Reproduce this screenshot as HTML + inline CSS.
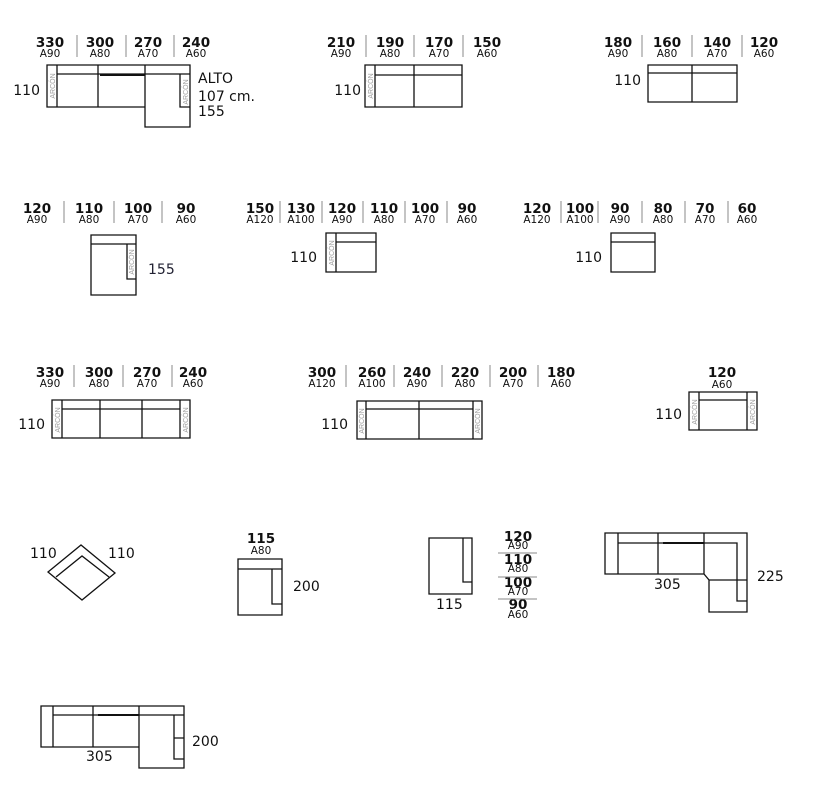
<!DOCTYPE html>
<html><head><meta charset="utf-8"><style>
html,body{margin:0;padding:0;background:#fff;}
svg{display:block;}
text{font-family:"DejaVu Sans","Liberation Sans",sans-serif;fill:#111;}
.n{font-size:13.5px;font-weight:bold;text-anchor:middle;}
.a{font-size:10.5px;text-anchor:middle;}
.t{font-size:14px;}
.e{text-anchor:end;}
.s{stroke:#111;stroke-width:1.3;fill:none;}
.g{stroke:#888;stroke-width:1;}
.ar{font-size:7px;fill:#999;text-anchor:middle;font-family:"Liberation Sans",sans-serif;}
</style></head><body>
<svg width="826" height="789" viewBox="0 0 826 789">
<!-- Row1 M1 -->
<g>
<text class="n" x="50" y="47">330</text><text class="a" x="50" y="57">A90</text>
<text class="n" x="100" y="47">300</text><text class="a" x="100" y="57">A80</text>
<text class="n" x="148" y="47">270</text><text class="a" x="148" y="57">A70</text>
<text class="n" x="196" y="47">240</text><text class="a" x="196" y="57">A60</text>
<path class="g" d="M77 35V57M126 35V57M174 35V57"/>
<path class="s" d="M47 65H190V127H145V107H47Z M57 74H190 M57 65V107 M98 65V107 M145 65V107 M180 74V107H190"/>
<path d="M100 75H145" stroke="#111" stroke-width="2"/>
<text class="ar" transform="translate(55,86) rotate(-90)">ARCÓN</text>
<text class="ar" transform="translate(188,92) rotate(-90)">ARCÓN</text>
<text class="t e" x="40" y="95">110</text>
<text class="t" x="198" y="83">ALTO</text><text class="t" x="198" y="101">107 cm.</text><text class="t" x="198" y="116">155</text>
</g>
<!-- M2 -->
<g>
<text class="n" x="341" y="47">210</text><text class="a" x="341" y="57">A90</text>
<text class="n" x="390" y="47">190</text><text class="a" x="390" y="57">A80</text>
<text class="n" x="439" y="47">170</text><text class="a" x="439" y="57">A70</text>
<text class="n" x="487" y="47">150</text><text class="a" x="487" y="57">A60</text>
<path class="g" d="M366 35V57M414 35V57M463 35V57"/>
<path class="s" d="M365 65H462V107H365Z M375 65V107 M375 75H462 M414 65V107"/>
<text class="ar" transform="translate(373,86) rotate(-90)">ARCÓN</text>
<text class="t e" x="361" y="95">110</text>
</g>
<!-- M3 -->
<g>
<text class="n" x="618" y="47">180</text><text class="a" x="618" y="57">A90</text>
<text class="n" x="667" y="47">160</text><text class="a" x="667" y="57">A80</text>
<text class="n" x="717" y="47">140</text><text class="a" x="717" y="57">A70</text>
<text class="n" x="764" y="47">120</text><text class="a" x="764" y="57">A60</text>
<path class="g" d="M642 35V57M692 35V57M742 35V57"/>
<path class="s" d="M648 65H737V102H648Z M648 73H737 M692 65V102"/>
<text class="t e" x="641" y="85">110</text>
</g>
<!-- Row2 M4 -->
<g>
<text class="n" x="37" y="213">120</text><text class="a" x="37" y="223">A90</text>
<text class="n" x="89" y="213">110</text><text class="a" x="89" y="223">A80</text>
<text class="n" x="138" y="213">100</text><text class="a" x="138" y="223">A70</text>
<text class="n" x="186" y="213">90</text><text class="a" x="186" y="223">A60</text>
<path class="g" d="M64 201V223M114 201V223M162 201V223"/>
<path class="s" d="M91 235H136V295H91Z M91 244H136 M127 244V279H136"/>
<text class="ar" transform="translate(134,262) rotate(-90)">ARCÓN</text>
<text class="t" x="148" y="274" style="fill:#223">155</text>
</g>
<!-- M5 -->
<g>
<text class="n" x="260" y="213">150</text><text class="a" x="260" y="223">A120</text>
<text class="n" x="301" y="213">130</text><text class="a" x="301" y="223">A100</text>
<text class="n" x="342" y="213">120</text><text class="a" x="342" y="223">A90</text>
<text class="n" x="384" y="213">110</text><text class="a" x="384" y="223">A80</text>
<text class="n" x="425" y="213">100</text><text class="a" x="425" y="223">A70</text>
<text class="n" x="467" y="213">90</text><text class="a" x="467" y="223">A60</text>
<path class="g" d="M280 201V223M322 201V223M363 201V223M405 201V223M447 201V223"/>
<path class="s" d="M326 233H376V272H326Z M336 233V272 M336 242H376"/>
<text class="ar" transform="translate(334,253) rotate(-90)">ARCÓN</text>
<text class="t e" x="317" y="262">110</text>
</g>
<!-- M6 -->
<g>
<text class="n" x="537" y="213">120</text><text class="a" x="537" y="223">A120</text>
<text class="n" x="580" y="213">100</text><text class="a" x="580" y="223">A100</text>
<text class="n" x="620" y="213">90</text><text class="a" x="620" y="223">A90</text>
<text class="n" x="663" y="213">80</text><text class="a" x="663" y="223">A80</text>
<text class="n" x="705" y="213">70</text><text class="a" x="705" y="223">A70</text>
<text class="n" x="747" y="213">60</text><text class="a" x="747" y="223">A60</text>
<path class="g" d="M561 201V223M598 201V223M642 201V223M685 201V223M728 201V223"/>
<path class="s" d="M611 233H655V272H611Z M611 242H655"/>
<text class="t e" x="602" y="262">110</text>
</g>
<!-- Row3 M7 -->
<g>
<text class="n" x="50" y="377">330</text><text class="a" x="50" y="387">A90</text>
<text class="n" x="99" y="377">300</text><text class="a" x="99" y="387">A80</text>
<text class="n" x="147" y="377">270</text><text class="a" x="147" y="387">A70</text>
<text class="n" x="193" y="377">240</text><text class="a" x="193" y="387">A60</text>
<path class="g" d="M74 365V387M123 365V387M172 365V387"/>
<path class="s" d="M52 400H190V438H52Z M62 400V438 M180 400V438 M62 409H180 M100 400V438 M142 400V438"/>
<text class="ar" transform="translate(60,420) rotate(-90)">ARCÓN</text>
<text class="ar" transform="translate(188,420) rotate(-90)">ARCÓN</text>
<text class="t e" x="45" y="429">110</text>
</g>
<!-- M8 -->
<g>
<text class="n" x="322" y="377">300</text><text class="a" x="322" y="387">A120</text>
<text class="n" x="372" y="377">260</text><text class="a" x="372" y="387">A100</text>
<text class="n" x="417" y="377">240</text><text class="a" x="417" y="387">A90</text>
<text class="n" x="465" y="377">220</text><text class="a" x="465" y="387">A80</text>
<text class="n" x="513" y="377">200</text><text class="a" x="513" y="387">A70</text>
<text class="n" x="561" y="377">180</text><text class="a" x="561" y="387">A60</text>
<path class="g" d="M346 365V387M394 365V387M442 365V387M490 365V387M538 365V387"/>
<path class="s" d="M357 401H482V439H357Z M366 401V439 M473 401V439 M366 409H473 M419 401V439"/>
<text class="ar" transform="translate(364,421) rotate(-90)">ARCÓN</text>
<text class="ar" transform="translate(480,421) rotate(-90)">ARCÓN</text>
<text class="t e" x="348" y="429">110</text>
</g>
<!-- M9 -->
<g>
<text class="n" x="722" y="377">120</text><text class="a" x="722" y="388">A60</text>
<path class="s" d="M689 392H757V430H689Z M699 392V430 M747 392V430 M699 400H747"/>
<text class="ar" transform="translate(697,412) rotate(-90)">ARCÓN</text>
<text class="ar" transform="translate(755,412) rotate(-90)">ARCÓN</text>
<text class="t e" x="682" y="419">110</text>
</g>
<!-- Row4 corner -->
<g>
<path class="s" d="M48 572L81 545L115 573L82 600Z M56 577L82 556L109 577"/>
<text class="t" x="30" y="558">110</text><text class="t" x="108" y="558">110</text>
</g>
<g>
<text class="n" x="261" y="543">115</text><text class="a" x="261" y="554">A80</text>
<path class="s" d="M238 559H282V615H238Z M238 569H282 M272 569V604H282"/>
<text class="t" x="293" y="591">200</text>
</g>
<g>
<path class="s" d="M429 538H472V594H429Z M463 538V582H472"/>
<text class="t" x="436" y="609">115</text>
<text class="n" x="518" y="541">120</text><text class="a" x="518" y="549">A90</text>
<text class="n" x="518" y="564">110</text><text class="a" x="518" y="572">A80</text>
<text class="n" x="518" y="587">100</text><text class="a" x="518" y="595">A70</text>
<text class="n" x="518" y="609">90</text><text class="a" x="518" y="618">A60</text>
<path class="g" d="M498 553H537M498 577H537M498 599H537" stroke="#555"/>
</g>
<g>
<path class="s" d="M605 533H747V612H709V580L704 574H605Z M618 533V574 M618 543H737V601H747 M658 533V574 M704 533V574 M709 580H747"/>
<path d="M663 543H704" stroke="#111" stroke-width="2"/>
<text class="t" x="654" y="589">305</text>
<text class="t" x="757" y="581">225</text>
</g>
<!-- Row5 -->
<g>
<path class="s" d="M41 706H184V768H139V747H41Z M53 706V747 M53 715H184 M93 706V747 M139 706V768 M174 715V759H184 M174 738H184"/>
<path d="M98 715H139" stroke="#111" stroke-width="2"/>
<text class="t" x="86" y="761">305</text>
<text class="t" x="192" y="746">200</text>
</g>
</svg>
</body></html>
